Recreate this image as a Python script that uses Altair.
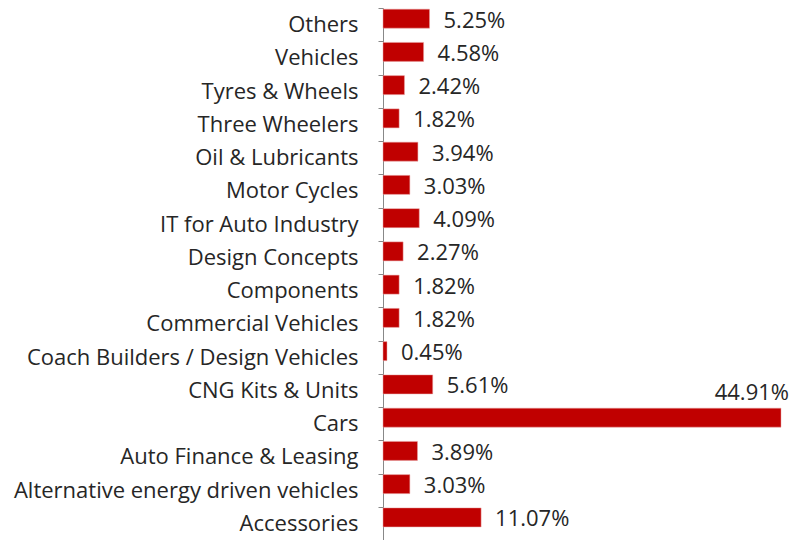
import altair as alt
import pandas as pd

categories = ["Others", "Vehicles", "Tyres & Wheels", "Three Wheelers", "Oil & Lubricants",
              "Motor Cycles", "IT for Auto Industry", "Design Concepts", "Components",
              "Commercial Vehicles", "Coach Builders / Design Vehicles", "CNG Kits & Units",
              "Cars", "Auto Finance & Leasing", "Alternative energy driven vehicles", "Accessories"]
values = [5.25, 4.58, 2.42, 1.82, 3.94, 3.03, 4.09, 2.27, 1.82, 1.82, 0.45, 5.61,
          44.91, 3.89, 3.03, 11.07]
labels = ["5.25%", "4.58%", "2.42%", "1.82%", "3.94%", "3.03%", "4.09%", "2.27%", "1.82%",
          "1.82%", "0.45%", "5.61%", "44.91%", "3.89%", "3.03%", "11.07%"]

df = pd.DataFrame({"cat": categories, "val": values, "lab": labels})

FONT = "Open Sans"
FS = 22
y = alt.Y("cat:N", sort=None, title=None,
          scale=alt.Scale(paddingInner=0, paddingOuter=0, range=[-4, 528]),
          axis=alt.Axis(tickBand="extent", tickSize=5, tickColor="#888888",
                        domainColor="#888888", labelFont=FONT, labelFontSize=FS,
                        labelColor="#262626", labelPadding=20, labelLimit=400))
x = alt.X("val:Q", title=None, axis=None,
          scale=alt.Scale(domain=[0, 44.91], nice=False, zero=True))

base = alt.Chart(df).encode(y=y, x=x)

bars = base.mark_bar(color="#C00000", height=19, yOffset=-6, stroke="#e8a0a0", strokeWidth=0.5)

texts = base.transform_filter(alt.datum.cat != "Cars").mark_text(
    align="left", baseline="middle", dx=14, dy=-4, font=FONT, fontSize=FS, color="#262626"
).encode(text="lab:N")

cars_text = base.transform_filter(alt.datum.cat == "Cars").mark_text(
    align="right", baseline="middle", dx=8, dy=-31, font=FONT, fontSize=FS, color="#262626"
).encode(text="lab:N")

chart = alt.layer(bars, texts, cars_text).properties(
    width=398, height=528,
    autosize=alt.AutoSizeParams(type="none"),
    padding={"left": 375, "top": 4, "right": 9, "bottom": 0},
).configure_view(stroke=None)

chart.save("out.html", embed_options={"renderer": "svg", "actions": False})
